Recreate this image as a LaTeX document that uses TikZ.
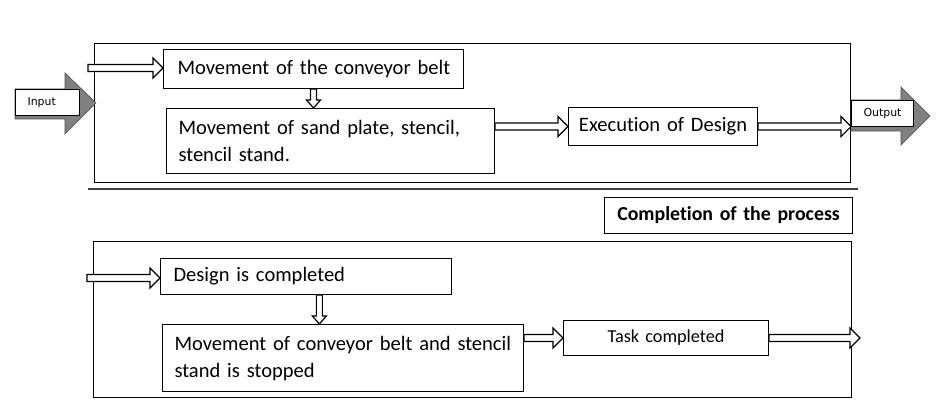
\documentclass[tikz,border=0pt]{standalone}
\usepackage{fontspec}
\setmainfont{Carlito}[Ligatures=NoCommon]
\newfontfamily\smallsans{DejaVu Sans}
\usetikzlibrary{calc}
\newcommand{\mainsz}{\fontsize{15.4}{20.25}\selectfont}
\newcommand{\hollowh}[2]{\draw[hollow] let \p1=#1, \p2=#2 in
 (\x1,\y1+2.6pt) -- (\x2-7.5pt,\y1+2.6pt) -- (\x2-7.5pt,\y1+7.5pt) -- (\x2,\y1) -- (\x2-7.5pt,\y1-7.5pt) -- (\x2-7.5pt,\y1-2.6pt) -- (\x1,\y1-2.6pt) -- cycle;}
\newcommand{\hollowv}[2]{\draw[hollow] let \p1=#1, \p2=#2 in
 (\x1-2.25pt,\y1) -- (\x1-2.25pt,\y2+6pt) -- (\x1-5.25pt,\y2+6pt) -- (\x1,\y2) -- (\x1+5.25pt,\y2+6pt) -- (\x1+2.25pt,\y2+6pt) -- (\x1+2.25pt,\y1) -- cycle;}
\definecolor{arrowgray}{RGB}{128,128,128}
\tikzset{
 frame/.style={draw=black, line width=0.8pt, inner sep=0pt, anchor=north west},
 box/.style={draw=black, line width=0.8pt, fill=white, inner sep=0pt, anchor=north west, font=\mainsz, align=left},
 hollow/.style={draw=black, line width=0.9pt, fill=white, line join=miter},
 grayarrow/.style={fill=arrowgray, draw=black!70, line width=0.5pt},
 tag/.style={draw=black, line width=0.8pt, fill=white, inner sep=0pt, anchor=north west, minimum height=19.5pt, font=\smallsans\fontsize{8.2}{10}\selectfont},
 sepline/.style={draw=black!75, line width=1.4pt},
}
\begin{document}
\begin{tikzpicture}[x=0.75pt,y=-0.75pt]
\useasboundingbox (0,0) rectangle (936,409);
% frames
\node[frame, minimum width=567pt, minimum height=104.25pt] (top) at (94,43) {};
\node[frame, minimum width=568.5pt, minimum height=117pt] (bot) at (93,241) {};
\coordinate (sepL) at (88,189);
\coordinate (sepR) at (858,189);
\draw[sepline] (sepL) -- (sepR);
% input / output gray arrows
\draw[grayarrow] (15,89) -- (65,89) -- (65,73) -- (96,103) -- (65,134) -- (65,119) -- (15,119) -- cycle;
\node[tag, text width=48pt, align=left] (in) at (15,89) {\hspace*{9pt}Input};
\draw[grayarrow] (851,100) -- (901,100) -- (901,87) -- (930,116) -- (901,145) -- (901,131) -- (851,131) -- cycle;
\node[tag, text width=46.5pt, align=center] (out) at (851,100) {Output};
% top boxes
\node[box, text width=225pt, minimum height=29.25pt] (b1) at (163,49) {\hspace*{10.5pt}Movement of the conveyor belt};
\node[box, text width=246pt, minimum height=48.75pt] (b2) at (166,108) {\hspace*{9pt}Movement of sand plate, stencil,\\\hspace*{9pt}stencil stand.};
\node[box, text width=141.75pt, minimum height=28.5pt, align=center] (ex) at (568,107) {Execution of Design};
% completion label
\node[box, text width=186pt, minimum height=27pt, align=center, font=\bfseries\fontsize{14.9}{18}\selectfont] (cp) at (604,197) {Completion of the process};
% bottom boxes
\node[box, text width=218.25pt, minimum height=27pt] (d1) at (160,258) {\hspace*{9.75pt}Design is completed};
\node[box, text width=270.75pt, minimum height=50.25pt] (d2) at (162,324) {\hspace*{9pt}Movement of conveyor belt and stencil\\\hspace*{9pt}stand is stopped};
\node[box, text width=153.75pt, minimum height=26.25pt, align=center, font=\fontsize{13.7}{16}\selectfont] (tc) at (563,320) {Task completed};
% connectors top
\coordinate (inA) at (88,68);
\hollowh{(inA)}{(b1.west)}
\hollowv{(b1.south)}{(b2.north)}
\hollowh{(b2.east |- ex.west)}{(ex.west)}
\coordinate (exOut) at (top.east |- ex.east);
\hollowh{(ex.east)}{(exOut)}
% connectors bottom
\coordinate (inB) at (87,278);
\hollowh{(inB)}{(d1.west)}
\hollowv{([xshift=10pt]d1.south)}{(d2.north)}
\hollowh{(d2.east |- tc.west)}{(tc.west)}
\coordinate (endB) at (860,338);
\hollowh{(tc.east)}{(endB)}
\end{tikzpicture}
\end{document}
